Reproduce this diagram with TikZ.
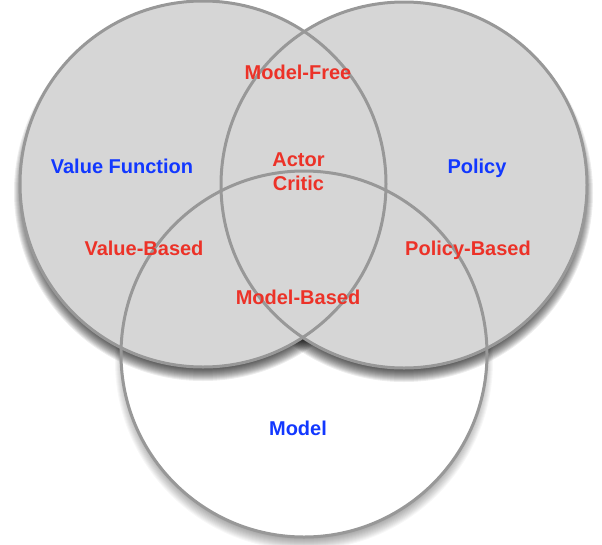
\documentclass[tikz,border=0pt]{standalone}
\usepackage{fontspec}
\setmainfont{Liberation Sans}
\usetikzlibrary{calc}
\definecolor{lblred}{RGB}{236,50,40}
\definecolor{lblblue}{RGB}{18,56,255}
\definecolor{ringgray}{RGB}{152,152,152}
\definecolor{fillgray}{RGB}{214,214,214}
\tikzset{
  ring/.style={draw=ringgray, line width=3pt},
  redlbl/.style={text=lblred, font=\fontsize{20}{24}\selectfont\bfseries, anchor=base, inner sep=0pt},
  bluelbl/.style={text=lblblue, font=\fontsize{20}{24}\selectfont\bfseries, anchor=base, inner sep=0pt}
}
\begin{document}
\begin{tikzpicture}[x=1pt,y=-1pt]
\useasboundingbox (0,0) rectangle (602,544);
\fill[white] (0,0) rectangle (602,544);
\coordinate (cL) at (203,184);
\coordinate (cR) at (404,185);
\coordinate (cB) at (304,354);
% shadow of the bottom circle
\foreach \k in {0,...,13}{
  \fill[black, opacity=0.03] ($(cB)+(0,7)$) circle[radius={176pt+\k pt}];
}
\fill[white] (cB) circle[radius=183pt];
% shadows of the two grey circles
\foreach \c in {cL,cR}{
  \foreach \k in {0,...,13}{
    \fill[black, opacity=0.07] ($(\c)+(0,8)$) circle[radius={176pt+\k pt}];
  }
}
\fill[fillgray] (cL) circle[radius=183pt];
\fill[fillgray] (cR) circle[radius=183pt];
\draw[ring] (cL) circle[radius=183pt];
\draw[ring] (cR) circle[radius=183pt];
\draw[ring] (cB) circle[radius=183pt];
% labels
\node[bluelbl] (vf) at (122,173) {Value Function};
\node[bluelbl] (pol) at (477,173) {Policy};
\node[bluelbl] (mod) at (298,435) {Model};
\node[redlbl] (mf) at (298,79) {Model-Free};
\node[redlbl] (actor) at (298.5,166) {Actor};
\node[redlbl] (critic) at (298.5,190) {Critic};
\node[redlbl] (vb) at (144,255) {Value-Based};
\node[redlbl] (pb) at (468,255) {Policy-Based};
\node[redlbl] (mb) at (298,304) {Model-Based};
\end{tikzpicture}
\end{document}
